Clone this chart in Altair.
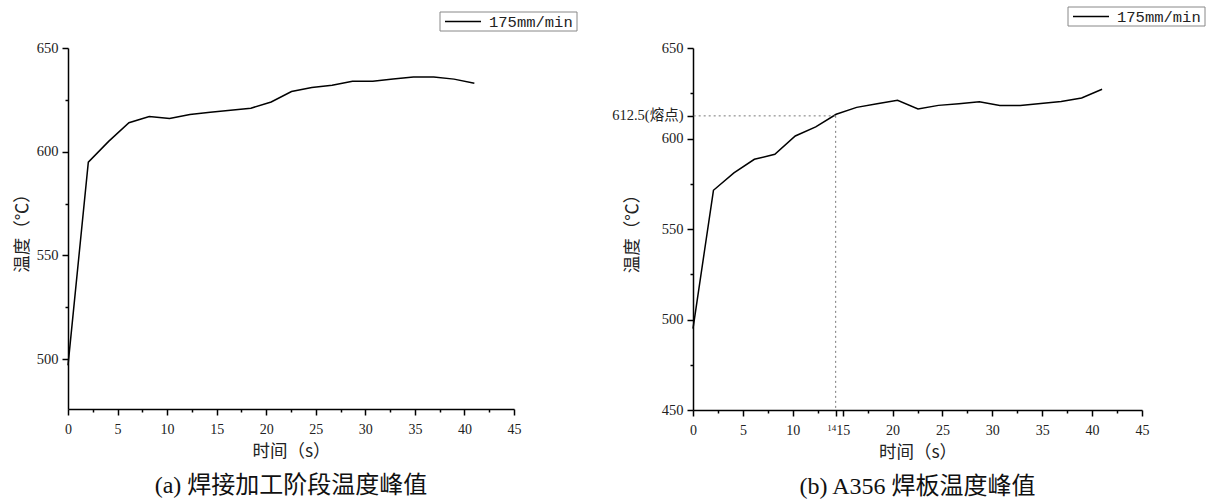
import altair as alt
import pandas as pd

# ---------------- data ----------------
time_s = [0, 2.05, 4.1, 6.15, 8.2, 10.25, 12.3, 14.35, 16.4, 18.45, 20.5,
          22.55, 24.6, 26.65, 28.7, 30.75, 32.8, 34.85, 36.9, 38.95, 41]
temp_a = [497, 595, 605, 614, 617, 616, 618, 619, 620, 621, 624,
          629, 631, 632, 634, 634, 635, 636, 636, 635, 633]
temp_b = [495, 571.4, 581, 588.5, 591.3, 601.4, 606.4, 613.4, 617.2, 619.2, 621.1,
          616.3, 618.3, 619.2, 620.3, 618.3, 618.3, 619.4, 620.5, 622.4, 627.2]
series_name = "175mm/min"
melting_point = 612.5
melting_time = 14.3

x_ticks = [0, 2.5, 5, 7.5, 10, 12.5, 15, 17.5, 20, 22.5, 25, 27.5, 30,
           32.5, 35, 37.5, 40, 42.5, 45]
x_ticks_b = sorted(x_ticks + [melting_time])
y_ticks_a = [500, 525, 550, 575, 600, 625, 650]
y_ticks_b = [450, 475, 500, 525, 550, 575, 600, 612.5, 625, 650]

x_title = "时间（s）"
y_title = "温度（℃）"
caption_a = "(a)  焊接加工阶段温度峰值"
caption_b = "(b) A356 焊板温度峰值"

df_a = pd.DataFrame({"t": time_s, "temp": temp_a})
df_b = pd.DataFrame({"t": time_s, "temp": temp_b})
df_mp = pd.DataFrame({"t": [melting_time], "temp": [melting_point]})
df_leg = pd.DataFrame({"name": [series_name]})

# ---------------- styles ----------------
TICK_FONT = "Liberation Serif"
CJK_FONT = "Noto Sans CJK SC"
MIX_FONT = f"{TICK_FONT}, {CJK_FONT}"
W_A, H_A = 446, 361
W_B, H_B = 449, 362


def x_axis(values, extra=None):
    lab = "datum.value % 5 === 0 ? format(datum.value, 'd') : ''"
    fs = 14
    align = "center"
    if extra is not None:
        test = f"abs(datum.value - {extra}) < 0.001"
        lab = (f"{test} ? '14' : "
               f"(datum.value % 5 === 0 ? format(datum.value, 'd') : '')")
        fs = alt.condition(test, alt.value(9), alt.value(14))
        align = alt.condition(test, alt.value("right"), alt.value("center"))
    return alt.Axis(
        values=values, title=x_title, labelExpr=lab, grid=False,
        domainColor="black", domainWidth=1.5, tickColor="black", tickWidth=1.5,
        tickSize=alt.condition("datum.value % 5 === 2.5", alt.value(3), alt.value(6)),
        labelFont=TICK_FONT, labelFontSize=fs, labelAlign=align, labelColor="#222",
        labelPadding=7, labelFlush=False, labelOverlap=False,
        titleFont=CJK_FONT, titleFontSize=17.5, titleFontWeight="normal",
        titleColor="#222", titlePadding=6,
    )


def y_axis(values, title_x, h, mp=False):
    lab = "datum.value % 50 === 0 ? datum.label : ''"
    if mp:
        lab = ("datum.value === 612.5 ? '612.5(熔点)' : "
               "(datum.value % 50 === 0 ? datum.label : '')")
    return alt.Axis(
        values=values, title=y_title, labelExpr=lab, grid=False,
        domainColor="black", domainWidth=1.5, tickColor="black", tickWidth=1.5,
        tickSize=alt.condition("datum.value % 50 === 25", alt.value(3), alt.value(6)),
        labelFont=MIX_FONT,
        labelFontSize=14.5, labelColor="#222",
        labelPadding=4, labelFlush=False, labelOverlap=False,
        titleFont=CJK_FONT, titleFontSize=17.5, titleFontWeight="normal",
        titleColor="#222", titleX=title_x, titleY=h / 2, titleAngle=-90,
        titleAlign="center", titleBaseline="middle",
    )


def legend_layers(lx, ly):
    box = alt.Chart(df_leg).mark_rect(
        fill="white", stroke="#888", strokeWidth=1
    ).encode(x=alt.value(lx), x2=alt.value(lx + 137),
             y=alt.value(ly), y2=alt.value(ly + 19))
    sym = alt.Chart(df_leg).mark_rule(color="black", strokeWidth=1.5).encode(
        x=alt.value(lx + 5), x2=alt.value(lx + 41), y=alt.value(ly + 9.5))
    txt = alt.Chart(df_leg).mark_text(
        align="left", baseline="middle", font="Liberation Mono",
        fontSize=15.5, color="#222"
    ).encode(x=alt.value(lx + 49), y=alt.value(ly + 10), text="name:N")
    return [box, sym, txt]


def caption(text):
    return alt.TitleParams(text=text, orient="bottom", anchor="middle",
                           font=MIX_FONT, fontSize=24,
                           fontWeight="normal", color="#111", offset=14)


# ---------------- panel (a) ----------------
line_a = alt.Chart(df_a).mark_line(color="black", strokeWidth=1.5).encode(
    x=alt.X("t:Q", scale=alt.Scale(domain=[0, 45], nice=False),
            axis=x_axis(x_ticks)),
    y=alt.Y("temp:Q", scale=alt.Scale(domain=[476, 650], nice=False, zero=False),
            axis=y_axis(y_ticks_a, -46, H_A)),
)
panel_a = alt.layer(line_a, *legend_layers(372, -36)).properties(
    width=W_A, height=H_A, title=caption(caption_a))

# ---------------- panel (b) ----------------
xb = alt.X("t:Q", scale=alt.Scale(domain=[0, 45], nice=False),
           axis=x_axis(x_ticks_b, extra=melting_time))
yb = alt.Y("temp:Q", scale=alt.Scale(domain=[450, 650], nice=False, zero=False),
           axis=y_axis(y_ticks_b, -61, H_B, mp=True))
line_b = alt.Chart(df_b).mark_line(color="black", strokeWidth=1.5).encode(x=xb, y=yb)
hrule = alt.Chart(df_mp).mark_rule(color="#777", strokeWidth=1, strokeDash=[2, 3]).encode(
    x=xb, x2=alt.datum(0), y=yb)
vrule = alt.Chart(df_mp).mark_rule(color="#777", strokeWidth=1, strokeDash=[2, 3]).encode(
    x=xb, y=yb, y2=alt.datum(450))
panel_b = alt.layer(line_b, hrule, vrule, *legend_layers(375, -41)).properties(
    width=W_B, height=H_B, title=caption(caption_b))

chart = alt.hconcat(panel_a, panel_b, spacing=179, bounds="flush").properties(
    padding={"left": 13, "top": 6, "right": 5, "bottom": 5},
    background="white",
).configure_view(stroke=None)

chart.save("out.html", embed_options={"renderer": "svg", "actions": False})
